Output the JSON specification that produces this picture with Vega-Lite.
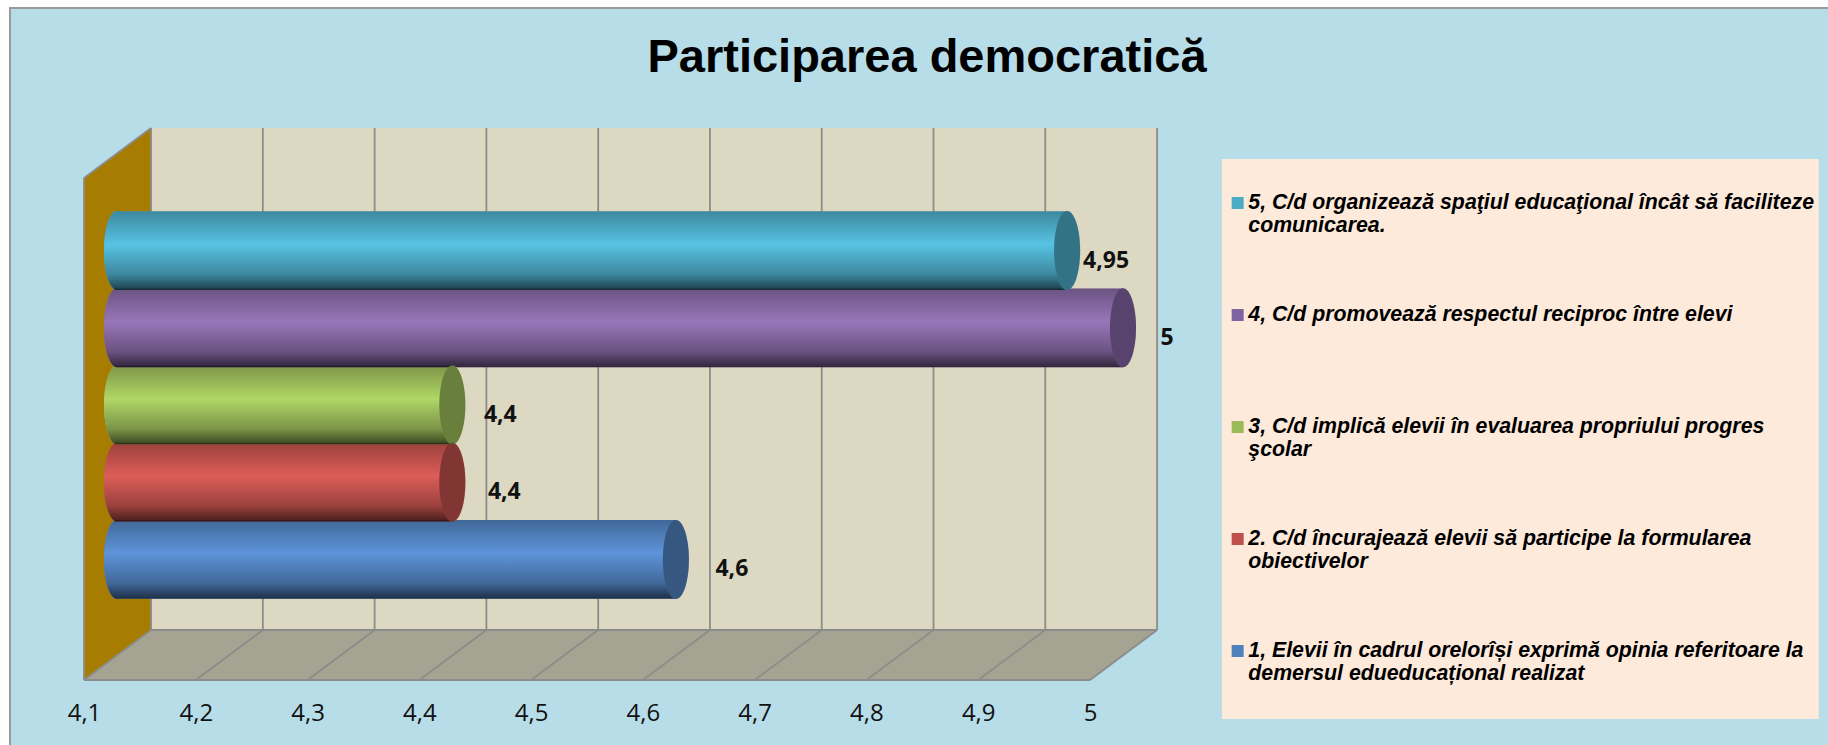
{"$schema":"https://vega.github.io/schema/vega-lite/v6.json","width":1006,"height":552,"autosize":{"type":"none"},"padding":{"left":84,"top":128,"right":738,"bottom":65},"background":"#ffffff","config":{"view":{"stroke":null},"locale":{"number":{"decimal":",","thousands":".","grouping":[3],"currency":["","€"]}}},"title":{"text":"Participarea democratică","font":"Liberation Sans","fontSize":47,"fontWeight":"bold","color":"#000000","anchor":"middle","frame":"group","dx":340,"offset":-75,"zindex":1},"datasets":{"bars":[{"series":"1, Elevii în cadrul orelorîși exprimă opinia referitoare la demersul edueducațional realizat","value":4.6},{"series":"2. C/d încurajează elevii să participe la formularea obiectivelor","value":4.4},{"series":"3, C/d implică elevii în evaluarea propriului progres şcolar","value":4.4},{"series":"4, C/d promovează respectul reciproc între elevi","value":5},{"series":"5, C/d organizează spaţiul educaţional încât să faciliteze comunicarea.","value":4.95}],"segments":[{"seg":"w0","x":4.16,"y":0.5},{"seg":"w0","x":4.16,"y":5.52},{"seg":"w1","x":4.26,"y":0.5},{"seg":"w1","x":4.26,"y":5.52},{"seg":"w2","x":4.36,"y":0.5},{"seg":"w2","x":4.36,"y":5.52},{"seg":"w3","x":4.46,"y":0.5},{"seg":"w3","x":4.46,"y":5.52},{"seg":"w4","x":4.56,"y":0.5},{"seg":"w4","x":4.56,"y":5.52},{"seg":"w5","x":4.66,"y":0.5},{"seg":"w5","x":4.66,"y":5.52},{"seg":"w6","x":4.76,"y":0.5},{"seg":"w6","x":4.76,"y":5.52},{"seg":"w7","x":4.86,"y":0.5},{"seg":"w7","x":4.86,"y":5.52},{"seg":"w8","x":4.96,"y":0.5},{"seg":"w8","x":4.96,"y":5.52},{"seg":"w9","x":5.06,"y":0.5},{"seg":"w9","x":5.06,"y":5.52},{"seg":"f0","x":4.1,"y":0},{"seg":"f0","x":4.16,"y":0.5},{"seg":"f1","x":4.2,"y":0},{"seg":"f1","x":4.26,"y":0.5},{"seg":"f2","x":4.3,"y":0},{"seg":"f2","x":4.36,"y":0.5},{"seg":"f3","x":4.4,"y":0},{"seg":"f3","x":4.46,"y":0.5},{"seg":"f4","x":4.5,"y":0},{"seg":"f4","x":4.56,"y":0.5},{"seg":"f5","x":4.6,"y":0},{"seg":"f5","x":4.66,"y":0.5},{"seg":"f6","x":4.7,"y":0},{"seg":"f6","x":4.76,"y":0.5},{"seg":"f7","x":4.8,"y":0},{"seg":"f7","x":4.86,"y":0.5},{"seg":"f8","x":4.9,"y":0},{"seg":"f8","x":4.96,"y":0.5},{"seg":"f9","x":5.0,"y":0},{"seg":"f9","x":5.06,"y":0.5},{"seg":"edge","x":4.1,"y":0},{"seg":"edge","x":4.1,"y":5.02},{"seg":"slant","x":4.1,"y":5.02},{"seg":"slant","x":4.16,"y":5.52},{"seg":"front","x":4.1,"y":0},{"seg":"front","x":5.0,"y":0},{"seg":"wb","x":4.16,"y":0.5},{"seg":"wb","x":5.06,"y":0.5}]},"layer":[{"layer":[{"data":{"values":[{"x":4.0338,"x2":5.75,"y":6.72,"y2":-0.8}]},"mark":{"type":"rect","fill":"#b7dde8","stroke":"#9a9a9a","strokeWidth":2},"encoding":{"x":{"field":"x","type":"quantitative","scale":{"domain":[4.1,5],"nice":false,"zero":false},"axis":{"title":null,"values":[4.1,4.2,4.3,4.4,4.5,4.6,4.7,4.8,4.9,5],"format":".1~f","labelFont":"Open Sans","labelFontSize":24,"labelColor":"#111111","labelPadding":21,"domain":false,"ticks":false,"grid":false,"labelFlush":false,"labelOverlap":false,"zindex":1}},"x2":{"field":"x2"},"y":{"field":"y","type":"quantitative","scale":{"domain":[0,5.52],"nice":false,"zero":false},"axis":null},"y2":{"field":"y2"}}},{"data":{"values":[{"x":5.118,"x2":5.652,"y":5.21,"y2":-0.39}]},"mark":{"type":"rect","fill":"#fdeadb"},"encoding":{"x":{"field":"x","type":"quantitative"},"x2":{"field":"x2"},"y":{"field":"y","type":"quantitative"},"y2":{"field":"y2"}}},{"data":{"values":[{"x":4.16,"x2":5.06,"y":0.5,"y2":5.52}]},"mark":{"type":"rect","fill":"#ddd8c2"},"encoding":{"x":{"field":"x","type":"quantitative"},"x2":{"field":"x2"},"y":{"field":"y","type":"quantitative"},"y2":{"field":"y2"}}},{"data":{"values":[{"x":4.1,"y":0,"y2":5.02},{"x":4.16,"y":0.5,"y2":5.52}]},"mark":{"type":"area","orient":"vertical","fill":"#a67d00"},"encoding":{"x":{"field":"x","type":"quantitative"},"y":{"field":"y","type":"quantitative"},"y2":{"field":"y2"}}},{"data":{"values":[{"x":4.1,"x2":5.0,"y":0},{"x":4.16,"x2":5.06,"y":0.5}]},"mark":{"type":"area","orient":"horizontal","fill":"#a5a391"},"encoding":{"y":{"field":"y","type":"quantitative"},"x":{"field":"x","type":"quantitative"},"x2":{"field":"x2"}}},{"data":{"name":"segments"},"mark":{"type":"line","stroke":"#8c8c8c","strokeWidth":1.8},"encoding":{"x":{"field":"x","type":"quantitative"},"y":{"field":"y","type":"quantitative"},"detail":{"field":"seg"}}}]},{"data":{"name":"bars"},"layer":[{"mark":{"type":"point","filled":true,"opacity":1,"strokeWidth":0,"size":6241,"xOffset":33,"shape":"M0,-1 A0.33,1 0 1,1 0,1 A0.33,1 0 1,1 0,-1 Z"},"encoding":{"x":{"datum":4.1,"type":"quantitative"},"y":{"field":"series","type":"nominal","scale":{"type":"band","domain":["5, C/d organizează spaţiul educaţional încât să faciliteze comunicarea.","4, C/d promovează respectul reciproc între elevi","3, C/d implică elevii în evaluarea propriului progres şcolar","2. C/d încurajează elevii să participe la formularea obiectivelor","1, Elevii în cadrul orelorîși exprimă opinia referitoare la demersul edueducațional realizat"],"paddingInner":0,"paddingOuter":0,"range":[84,470]},"axis":null},"color":{"field":"series","type":"nominal","scale":{"domain":["5, C/d organizează spaţiul educaţional încât să faciliteze comunicarea.","4, C/d promovează respectul reciproc între elevi","3, C/d implică elevii în evaluarea propriului progres şcolar","2. C/d încurajează elevii să participe la formularea obiectivelor","1, Elevii în cadrul orelorîși exprimă opinia referitoare la demersul edueducațional realizat"],"range":["#4bacc6","#8064a2","#9bbb59","#c0504d","#4f81bd"]},"legend":{"orient":"none","legendX":1143,"legendY":19,"title":null,"symbolType":"square","symbolSize":144,"symbolStrokeWidth":0,"labelFont":"Liberation Sans","labelFontSize":21.3,"labelFontWeight":"bold","labelFontStyle":"italic","labelColor":"#000000","labelLimit":900,"labelOffset":0,"clipHeight":112,"rowPadding":0,"padding":0,"zindex":1,"labelExpr":"split(replace(datum.label,/(faciliteze|progres|formularea|referitoare la) /,'$1|'),'|')","encoding":{"labels":{"enter":{"lineHeight":{"value":24.5}},"update":{"baseline":{"value":"top"},"dy":{"value":-10},"lineHeight":{"value":24.5}}}}}}}},{"mark":{"type":"point","filled":true,"opacity":1,"strokeWidth":0,"size":6241,"xOffset":33,"shape":"M0,-1 A0.33,1 0 1,1 0,1 A0.33,1 0 1,1 0,-1 Z"},"encoding":{"x":{"datum":4.1,"type":"quantitative"},"y":{"field":"series","type":"nominal"},"fill":{"field":"series","type":"nominal","legend":null,"scale":{"domain":["5, C/d organizează spaţiul educaţional încât să faciliteze comunicarea.","4, C/d promovează respectul reciproc între elevi","3, C/d implică elevii în evaluarea propriului progres şcolar","2. C/d încurajează elevii să participe la formularea obiectivelor","1, Elevii în cadrul orelorîși exprimă opinia referitoare la demersul edueducațional realizat"],"range":["#57c3e3","#9876b9","#b1d666","#dd5d58","#5d94da"]}}}},{"mark":{"type":"point","filled":true,"opacity":1,"strokeWidth":0,"size":6241,"xOffset":33,"shape":"M0,-1 A0.33,1 0 1,1 0,1 A0.33,1 0 1,1 0,-1 Z","fill":{"gradient":"linear","x1":0,"y1":0,"x2":0,"y2":1,"stops":[{"offset":0,"color":"rgba(0,0,0,0.3)"},{"offset":0.42,"color":"rgba(0,0,0,0)"},{"offset":0.8,"color":"rgba(0,0,0,0.3)"},{"offset":1,"color":"rgba(0,0,0,0.68)"}]}},"encoding":{"x":{"datum":4.1,"type":"quantitative"},"y":{"field":"series","type":"nominal"}}},{"mark":{"type":"bar","xOffset":33,"x2Offset":33,"height":{"band":1.02}},"encoding":{"x":{"field":"value","type":"quantitative"},"x2":{"datum":4.1},"y":{"field":"series","type":"nominal"},"fill":{"field":"series","type":"nominal","legend":null}}},{"mark":{"type":"bar","xOffset":33,"x2Offset":33,"height":{"band":1.02},"fill":{"gradient":"linear","x1":0,"y1":0,"x2":0,"y2":1,"stops":[{"offset":0,"color":"rgba(0,0,0,0.3)"},{"offset":0.42,"color":"rgba(0,0,0,0)"},{"offset":0.8,"color":"rgba(0,0,0,0.3)"},{"offset":1,"color":"rgba(0,0,0,0.68)"}]}},"encoding":{"x":{"field":"value","type":"quantitative"},"x2":{"datum":4.1},"y":{"field":"series","type":"nominal"}}},{"mark":{"type":"point","filled":true,"opacity":1,"strokeWidth":0,"size":6241,"xOffset":33,"shape":"M0,-1 A0.33,1 0 1,1 0,1 A0.33,1 0 1,1 0,-1 Z"},"encoding":{"x":{"field":"value","type":"quantitative"},"y":{"field":"series","type":"nominal"},"color":{"field":"series","type":"nominal"}}},{"mark":{"type":"point","filled":true,"opacity":0.32,"strokeWidth":0,"size":6241,"xOffset":33,"fill":"#000000","shape":"M0,-1 A0.33,1 0 1,1 0,1 A0.33,1 0 1,1 0,-1 Z"},"encoding":{"x":{"field":"value","type":"quantitative"},"y":{"field":"series","type":"nominal"}}},{"mark":{"type":"text","font":"Open Sans","fontWeight":"bold","fontSize":23,"color":"#111111","dy":10,"dx":{"expr":"{'1':89,'2':85,'3':81,'4':77,'5':72}[slice(datum.series,0,1)]"},"align":"center","baseline":"middle"},"encoding":{"x":{"field":"value","type":"quantitative"},"y":{"field":"series","type":"nominal"},"text":{"field":"value","type":"quantitative","format":".2~f"}}}]}],"resolve":{"scale":{"y":"independent"}}}
